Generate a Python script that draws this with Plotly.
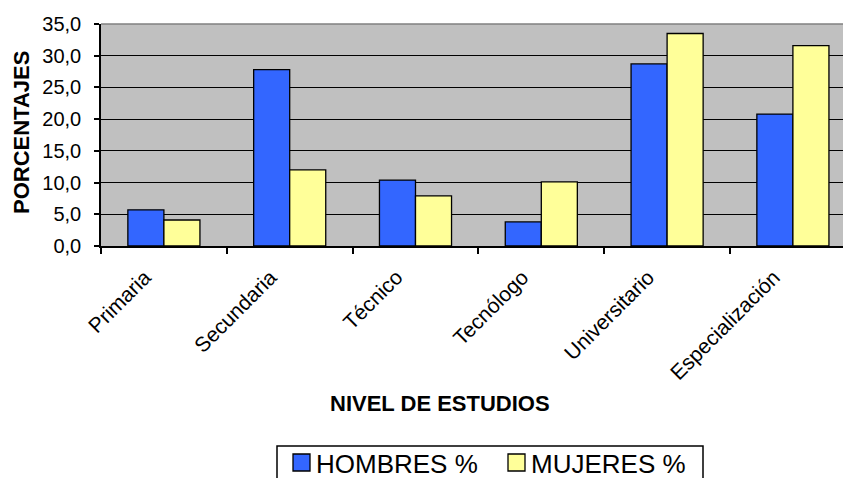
import plotly.graph_objects as go

categorias = ["Primaria", "Secundaria", "Técnico", "Tecnólogo", "Universitario", "Especialización"]
hombres = [5.7, 27.8, 10.4, 3.8, 28.7, 20.8]
mujeres = [4.1, 12.0, 7.9, 10.1, 33.5, 31.6]
y_ticks = [0, 5, 10, 15, 20, 25, 30, 35]
serie_h = "HOMBRES %"
serie_m = "MUJERES %"
titulo_x = "NIVEL DE ESTUDIOS"
titulo_y = "PORCENTAJES"

W, H = 843, 478
ML, MT, MB, MR = 101, 24, 232, 0
PW = W - ML - MR
PH = H - MT - MB
FONT = "Liberation Sans, Arial, sans-serif"
AZUL = "#3366FF"
AMARILLO = "#FFFF99"


def px(xp):
    return (xp - ML) / PW


def py(yp):
    return (H - MB - yp) / PH


fig = go.Figure()
fig.add_bar(x=categorias, y=hombres, name=serie_h,
            marker=dict(color=AZUL, line=dict(color="black", width=1.3)))
fig.add_bar(x=categorias, y=mujeres, name=serie_m,
            marker=dict(color=AMARILLO, line=dict(color="black", width=1.3)))

cat_px = 125.8
fig.update_layout(
    width=W, height=H,
    margin=dict(l=ML, r=MR, t=MT, b=MB, autoexpand=False),
    plot_bgcolor="#C0C0C0", paper_bgcolor="white",
    barmode="group", bargap=0.427, bargroupgap=0,
    showlegend=False, separators=",.",
    font=dict(family=FONT, color="black"),
    xaxis=dict(type="category", range=[-0.5, -0.5 + PW / cat_px],
               tickson="boundaries", ticks="outside", ticklen=6, tickwidth=1.5,
               tickcolor="black", showline=True, linecolor="black", linewidth=1.5,
               tickangle=-45, tickfont=dict(size=21, family=FONT), showgrid=False,
               ticklabelstandoff=9, ticklabelshift=-19),
    yaxis=dict(range=[0, 35], tickvals=y_ticks, tickformat=".1f",
               ticks="outside", ticklen=5, tickwidth=1.5, tickcolor="black",
               showline=True, linecolor="black", linewidth=1.5,
               showgrid=True, gridcolor="black", gridwidth=1.4, zeroline=False,
               tickfont=dict(size=20, family=FONT), ticklabelstandoff=9),
)

# grey top border of plot area
fig.add_shape(type="line", xref="paper", yref="paper", x0=0, x1=1, y0=1, y1=1,
              line=dict(color="#808080", width=1.5), layer="above")

# axis titles
fig.add_annotation(text="<b>" + titulo_x + "</b>", xref="paper", yref="paper",
                   x=px(440), y=py(403), showarrow=False, xanchor="center", yanchor="middle",
                   font=dict(size=22, family=FONT))
fig.add_annotation(text="<b>" + titulo_y + "</b>", xref="paper", yref="paper",
                   x=px(21), y=py(133), showarrow=False, xanchor="center", yanchor="middle",
                   textangle=-90, font=dict(size=22, family=FONT))

# legend (manual)
fig.add_shape(type="rect", xref="paper", yref="paper", x0=px(277), x1=px(703),
              y0=py(446), y1=py(495), line=dict(color="black", width=1.5), fillcolor="white")
fig.add_shape(type="rect", xref="paper", yref="paper", x0=px(293), x1=px(310),
              y0=py(454), y1=py(471), line=dict(color="black", width=1.3), fillcolor=AZUL)
fig.add_shape(type="rect", xref="paper", yref="paper", x0=px(508), x1=px(525),
              y0=py(454), y1=py(471), line=dict(color="black", width=1.3), fillcolor=AMARILLO)
fig.add_annotation(text=serie_h, xref="paper", yref="paper", x=px(314), y=py(464),
                   showarrow=False, xanchor="left", yanchor="middle",
                   font=dict(size=26, family=FONT))
fig.add_annotation(text=serie_m, xref="paper", yref="paper", x=px(529), y=py(464),
                   showarrow=False, xanchor="left", yanchor="middle",
                   font=dict(size=26, family=FONT))

fig.write_html("out.html")
